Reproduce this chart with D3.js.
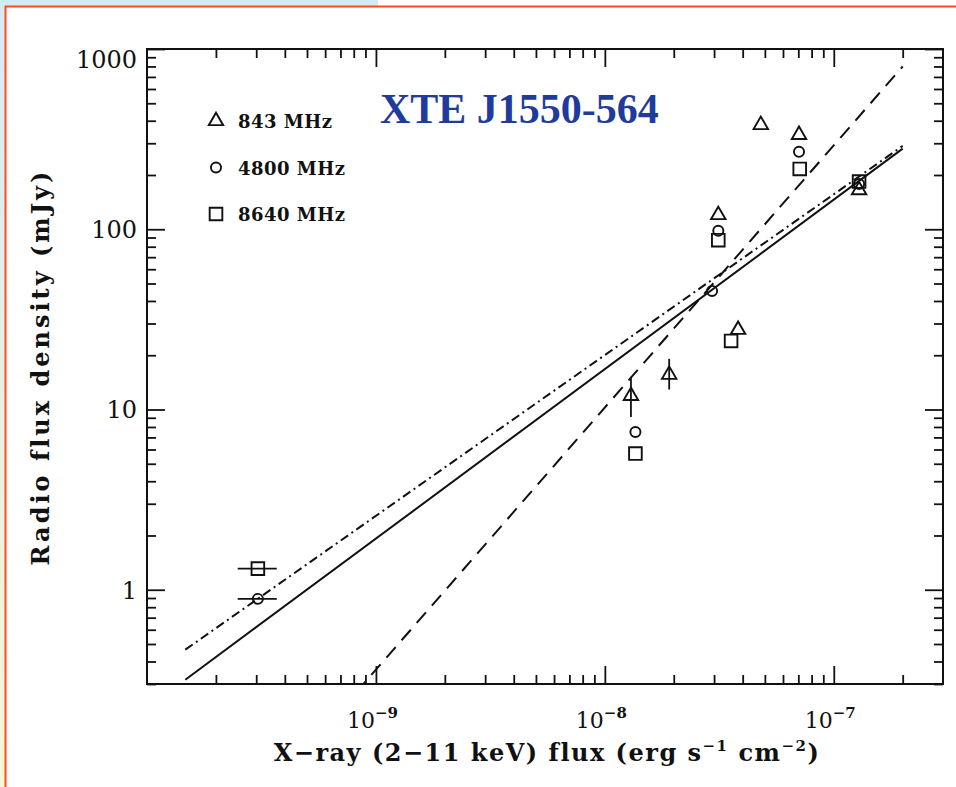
<!DOCTYPE html>
<html>
<head>
<meta charset="utf-8">
<script src="https://cdn.jsdelivr.net/npm/d3@7"></script>
<style>
body { margin: 0; background: #fff; }
svg { display: block; }
</style>
</head>
<body>
<svg id="chart" width="956" height="787"></svg>
<script>
// radio vs x-ray flux for XTE J1550-564, log-log

// data points [x-ray flux, radio mJy]
var pts843 = [[4.8e-8, 379], [7.05e-8, 334], [3.13e-8, 120], [1.29e-7, 165], [3.82e-8, 27.7], [1.91e-8, 15.6], [1.30e-8, 11.9]];
var pts4800 = [[7.05e-8, 269], [3.13e-8, 98], [2.94e-8, 45.5], [1.36e-8, 7.5], [3.05e-10, 0.89], [1.29e-7, 178]];
var pts8640 = [[7.1e-8, 216], [3.13e-8, 87], [3.56e-8, 24], [1.36e-8, 5.7], [3.05e-10, 1.31], [1.29e-7, 184]];

// error bars
var yErr843 = [[1.30e-8, 9.1, 15.2], [1.91e-8, 12.9, 19.1]];   // x, low, high
var xErrLow = [[2.49e-10, 3.69e-10, 0.89], [2.49e-10, 3.69e-10, 1.31]]; // low, high, y

// fitted power laws, end points
var fitSolid = [[1.47e-10, 0.317], [2.0e-7, 280]];
var fitDashDot = [[1.47e-10, 0.465], [2.0e-7, 290]];
var fitDashed = [[8.2e-10, 0.27], [2.0e-7, 800]];

var xMajor = [1e-9, 1e-8, 1e-7];
var xExp = ['−9', '−8', '−7'];
var yMajor = [1, 10, 100, 1000];
var legendLabels = ['843 MHz', '4800 MHz', '8640 MHz'];
var title = 'XTE J1550-564';

// plot box (window.top is taken, so p-prefix)
var pLeft = 147, pRight = 943, pTop = 49, pBottom = 684;

var x = d3.scaleLog().domain([1e-10, 3e-7]).range([pLeft, pRight]);
var y = d3.scaleLog().domain([0.3, 1000]).range([pBottom, pTop]);

function minors(lo, hi) {
    var out = [];
    for (var e = lo; e < hi; e++) {
        for (var m = 2; m <= 9; m++) out.push(m * Math.pow(10, e));
    }
    return out;
}
var xMinor = minors(-10, -7).concat([2e-7]);
var yMinor = minors(-1, 3).filter(function (d) { return d >= 0.3; });

var svg = d3.select('#chart');

// page background bits
var defs = svg.append('defs');
var grad = defs.append('linearGradient').attr('id', 'leftStrip')
    .attr('x1', 0).attr('y1', 0).attr('x2', 0).attr('y2', 1);
grad.append('stop').attr('offset', '0%').attr('stop-color', '#d3ebf6');
grad.append('stop').attr('offset', '100%').attr('stop-color', '#f6f8d6');
svg.append('rect').attr('x', 0).attr('y', 0).attr('width', 378).attr('height', 7).attr('fill', '#d3ebf6');
svg.append('rect').attr('x', 0).attr('y', 0).attr('width', 6).attr('height', 787).attr('fill', 'url(#leftStrip)');
svg.append('line').attr('x1', 5).attr('y1', 6.5).attr('x2', 956).attr('y2', 6.5)
    .attr('stroke', '#ff4a1c').attr('stroke-width', 2);
svg.append('line').attr('x1', 5.5).attr('y1', 6).attr('x2', 5.5).attr('y2', 787)
    .attr('stroke', '#ff4a1c').attr('stroke-width', 2);

defs.append('clipPath').attr('id', 'plotClip').append('rect')
    .attr('x', pLeft).attr('y', pTop).attr('width', pRight - pLeft).attr('height', pBottom - pTop);

var tickFont = '"DejaVu Serif", serif';

// axes: ticks inside on all four sides
function styleAxis(g) {
    g.select('.domain').remove();
    g.selectAll('.tick line').attr('stroke', '#111').attr('stroke-width', 1.8);
}
var axes = [
    [d3.axisBottom(x), 0, pBottom, xMajor, xMinor],
    [d3.axisTop(x), 0, pTop, xMajor, xMinor],
    [d3.axisLeft(y), pLeft, 0, yMajor, yMinor],
    [d3.axisRight(y), pRight, 0, yMajor, yMinor]
];
axes.forEach(function (a) {
    var gMin = svg.append('g').attr('transform', 'translate(' + a[1] + ',' + a[2] + ')')
        .call(a[0].tickValues(a[4]).tickSize(-9).tickFormat(''));
    styleAxis(gMin);
    var gMaj = svg.append('g').attr('transform', 'translate(' + a[1] + ',' + a[2] + ')')
        .call(a[0].tickValues(a[3]).tickSize(-18).tickFormat(''));
    styleAxis(gMaj);
});

// x tick labels 10^n
var xl = svg.append('g').attr('transform', 'translate(0,' + pBottom + ')')
    .call(d3.axisBottom(x).tickValues(xMajor).tickSize(0).tickFormat(''));
xl.select('.domain').remove();
xl.selectAll('.tick').append('text')
    .attr('x', -4)
    .attr('y', 44)
    .attr('text-anchor', 'middle')
    .attr('fill', '#111')
    .style('font-family', tickFont)
    .style('font-size', '22px')
    .each(function (d, i) {
        var t = d3.select(this);
        t.append('tspan').text('10');
        t.append('tspan').attr('dy', -10).style('font-size', '15px').style('font-weight', 'bold').text(xExp[i]);
    });

// y tick labels
var yl = svg.append('g').attr('transform', 'translate(' + pLeft + ',0)')
    .call(d3.axisLeft(y).tickValues(yMajor).tickSize(0).tickPadding(10).tickFormat(d3.format('d')));
yl.select('.domain').remove();
yl.selectAll('.tick text')
    .attr('fill', '#111')
    .attr('dy', function (d) { return d === 1000 ? '0.75em' : '0.35em'; })
    .style('font-family', tickFont)
    .style('font-size', '24px');

// fitted lines
var line = d3.line().x(function (d) { return x(d[0]); }).y(function (d) { return y(d[1]); });
var fits = svg.append('g').attr('clip-path', 'url(#plotClip)');
fits.append('path').datum(fitSolid).attr('d', line)
    .attr('fill', 'none').attr('stroke', '#111').attr('stroke-width', 2);
fits.append('path').datum(fitDashDot).attr('d', line)
    .attr('fill', 'none').attr('stroke', '#111').attr('stroke-width', 2)
    .attr('stroke-dasharray', '9,4,2,4');
fits.append('path').datum(fitDashed).attr('d', line)
    .attr('fill', 'none').attr('stroke', '#111').attr('stroke-width', 2)
    .attr('stroke-dasharray', '14,9');

// error bars
var eb = svg.append('g').attr('stroke', '#111').attr('stroke-width', 1.8);
eb.selectAll('line.ey').data(yErr843).enter().append('line')
    .attr('x1', function (d) { return x(d[0]); })
    .attr('x2', function (d) { return x(d[0]); })
    .attr('y1', function (d) { return y(d[1]); })
    .attr('y2', function (d) { return y(d[2]); });
eb.selectAll('line.ex').data(xErrLow).enter().append('line')
    .attr('x1', function (d) { return x(d[0]); })
    .attr('x2', function (d) { return x(d[1]); })
    .attr('y1', function (d) { return y(d[2]); })
    .attr('y2', function (d) { return y(d[2]); });

// markers
var symTri = d3.symbol().type(d3.symbolTriangle).size(90);
var symCirc = d3.symbol().type(d3.symbolCircle).size(80);
var symSq = d3.symbol().type(d3.symbolSquare).size(160);
var series = [[pts843, symTri], [pts4800, symCirc], [pts8640, symSq]];

series.forEach(function (s) {
    svg.append('g').selectAll('path').data(s[0]).enter().append('path')
        .attr('d', s[1])
        .attr('transform', function (d) { return 'translate(' + x(d[0]) + ',' + y(d[1]) + ')'; })
        .attr('fill', 'none')
        .attr('stroke', '#111')
        .attr('stroke-width', 1.9);
});

// legend
var leg = svg.append('g');
series.forEach(function (s, i) {
    var ly = 121 + i * 46.5;
    leg.append('path').attr('d', s[1])
        .attr('transform', 'translate(216,' + ly + ')')
        .attr('fill', 'none').attr('stroke', '#111').attr('stroke-width', 1.9);
    leg.append('text')
        .attr('x', 238).attr('y', ly + 7)
        .attr('fill', '#111')
        .style('font-family', tickFont)
        .style('font-weight', 'bold')
        .style('font-size', '18px')
        .style('letter-spacing', '0.5px')
        .text(legendLabels[i]);
});

// frame
svg.append('rect')
    .attr('x', pLeft).attr('y', pTop)
    .attr('width', pRight - pLeft).attr('height', pBottom - pTop)
    .attr('fill', 'none').attr('stroke', '#111').attr('stroke-width', 2);

// title
svg.append('text')
    .attr('x', 380).attr('y', 123)
    .attr('fill', '#1f3c9c')
    .style('font-family', '"Liberation Serif", "Times New Roman", serif')
    .style('font-weight', 'bold')
    .style('font-size', '42px')
    .text(title);

// axis titles
var xt = svg.append('text')
    .attr('x', 547).attr('y', 761)
    .attr('text-anchor', 'middle')
    .attr('fill', '#111')
    .style('font-family', tickFont)
    .style('font-weight', 'bold')
    .style('font-size', '24px')
    .style('letter-spacing', '1.5px');
xt.append('tspan').text('X−ray (2−11 keV) flux (erg s');
xt.append('tspan').attr('dy', -10).style('font-size', '15px').text('−1');
xt.append('tspan').attr('dy', 10).text(' cm');
xt.append('tspan').attr('dy', -10).style('font-size', '15px').text('−2');
xt.append('tspan').attr('dy', 10).text(')');

svg.append('text')
    .attr('transform', 'translate(49,367) rotate(-90)')
    .attr('text-anchor', 'middle')
    .attr('fill', '#111')
    .style('font-family', tickFont)
    .style('font-weight', 'bold')
    .style('font-size', '24px')
    .style('letter-spacing', '3px')
    .text('Radio flux density (mJy)');
</script>
</body>
</html>
